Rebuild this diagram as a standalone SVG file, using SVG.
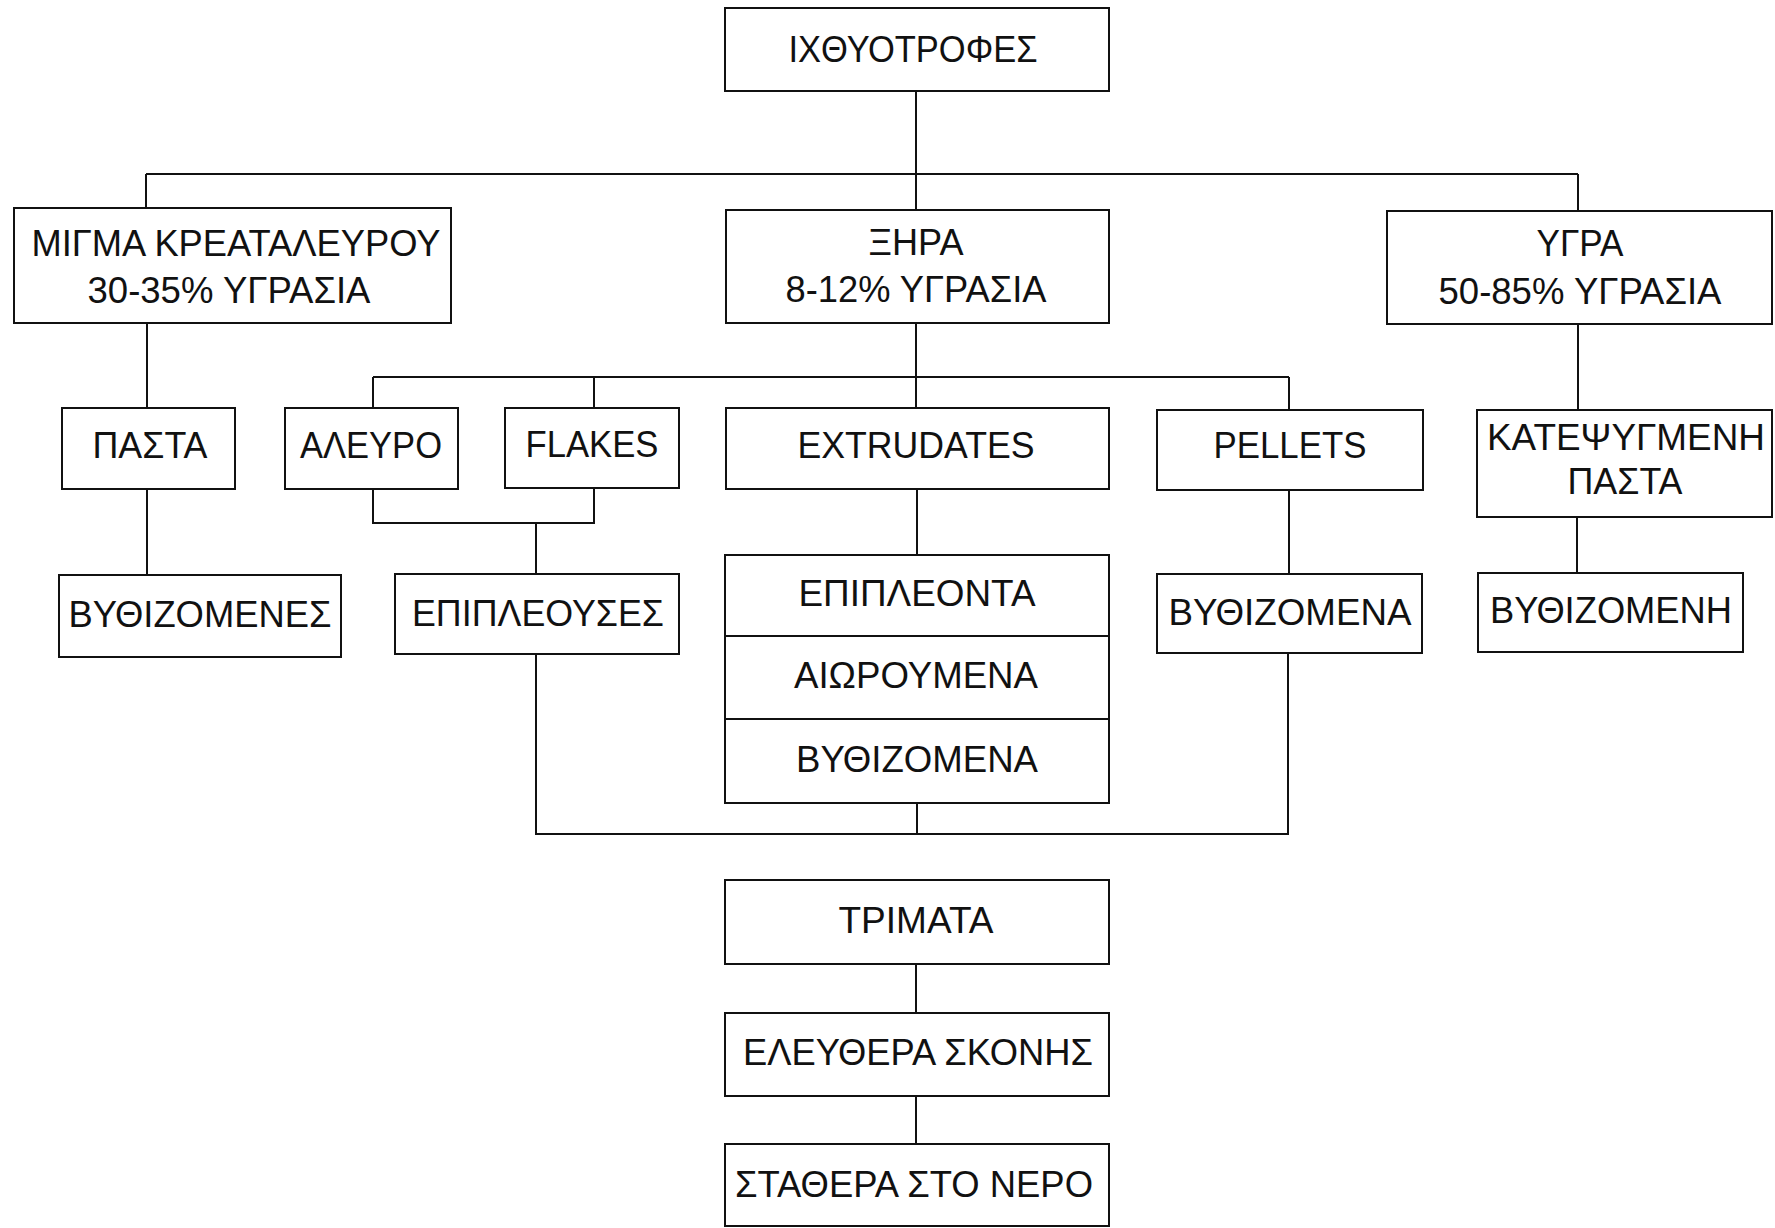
<svg xmlns="http://www.w3.org/2000/svg" width="1775" height="1228" viewBox="0 0 1775 1228">
<style>
.box{fill:#fff;stroke:#111;stroke-width:2}
.lbl{font-family:"Liberation Sans",Arial,sans-serif;font-size:36px;fill:#111;text-anchor:middle}
.con{fill:none;stroke:#111;stroke-width:2}
</style>
<rect width="1775" height="1228" fill="#fff"/>
<g id="connectors">
<path class="con" d="M916 91V210"/>
<path class="con" d="M146 174H1578"/>
<path class="con" d="M146 174V208"/>
<path class="con" d="M1578 174V211"/>
<path class="con" d="M147 323V408"/>
<path class="con" d="M147 489V575"/>
<path class="con" d="M916 323V408"/>
<path class="con" d="M373 377H1289"/>
<path class="con" d="M373 377V408"/>
<path class="con" d="M594 377V408"/>
<path class="con" d="M1289 377V410"/>
<path class="con" d="M373 489V523H594V488"/>
<path class="con" d="M536 523V574"/>
<path class="con" d="M536 654V834H1288V653"/>
<path class="con" d="M917 803V834"/>
<path class="con" d="M917 489V555"/>
<path class="con" d="M1289 490V574"/>
<path class="con" d="M1578 324V410"/>
<path class="con" d="M1577 517V573"/>
<path class="con" d="M916 964V1013"/>
<path class="con" d="M916 1096V1144"/>
</g>
<g id="n_ichthyotrofes"><rect class="box" x="725" y="8" width="384" height="83"/><text class="lbl" x="913" y="62" textLength="249" lengthAdjust="spacingAndGlyphs">ΙΧΘΥΟΤΡΟΦΕΣ</text></g>
<g id="n_migma"><rect class="box" x="14" y="208" width="437" height="115"/><text class="lbl" x="236" y="256" textLength="409" lengthAdjust="spacingAndGlyphs">ΜΙΓΜΑ ΚΡΕΑΤΑΛΕΥΡΟΥ</text><text class="lbl" x="229" y="303" textLength="283" lengthAdjust="spacingAndGlyphs">30-35% ΥΓΡΑΣΙΑ</text></g>
<g id="n_xhra"><rect class="box" x="726" y="210" width="383" height="113"/><text class="lbl" x="916" y="255" textLength="95" lengthAdjust="spacingAndGlyphs">ΞΗΡΑ</text><text class="lbl" x="916" y="302" textLength="261" lengthAdjust="spacingAndGlyphs">8-12% ΥΓΡΑΣΙΑ</text></g>
<g id="n_ygra"><rect class="box" x="1387" y="211" width="385" height="113"/><text class="lbl" x="1580" y="256" textLength="87" lengthAdjust="spacingAndGlyphs">ΥΓΡΑ</text><text class="lbl" x="1580" y="304" textLength="283" lengthAdjust="spacingAndGlyphs">50-85% ΥΓΡΑΣΙΑ</text></g>
<g id="n_pasta"><rect class="box" x="62" y="408" width="173" height="81"/><text class="lbl" x="150" y="458" textLength="115" lengthAdjust="spacingAndGlyphs">ΠΑΣΤΑ</text></g>
<g id="n_aleyro"><rect class="box" x="285" y="408" width="173" height="81"/><text class="lbl" x="371" y="458" textLength="142" lengthAdjust="spacingAndGlyphs">ΑΛΕΥΡΟ</text></g>
<g id="n_flakes"><rect class="box" x="505" y="408" width="174" height="80"/><text class="lbl" x="592" y="457" textLength="133" lengthAdjust="spacingAndGlyphs">FLAKES</text></g>
<g id="n_extrudates"><rect class="box" x="726" y="408" width="383" height="81"/><text class="lbl" x="916" y="458" textLength="237" lengthAdjust="spacingAndGlyphs">EXTRUDATES</text></g>
<g id="n_pellets"><rect class="box" x="1157" y="410" width="266" height="80"/><text class="lbl" x="1290" y="458" textLength="153" lengthAdjust="spacingAndGlyphs">PELLETS</text></g>
<g id="n_katepsygmeni"><rect class="box" x="1477" y="410" width="295" height="107"/><text class="lbl" x="1626" y="450" textLength="278" lengthAdjust="spacingAndGlyphs">ΚΑΤΕΨΥΓΜΕΝΗ</text><text class="lbl" x="1625" y="494" textLength="115" lengthAdjust="spacingAndGlyphs">ΠΑΣΤΑ</text></g>
<g id="n_vythizomenes"><rect class="box" x="59" y="575" width="282" height="82"/><text class="lbl" x="200" y="627" textLength="263" lengthAdjust="spacingAndGlyphs">ΒΥΘΙΖΟΜΕΝΕΣ</text></g>
<g id="n_epipleouses"><rect class="box" x="395" y="574" width="284" height="80"/><text class="lbl" x="538" y="626" textLength="252" lengthAdjust="spacingAndGlyphs">ΕΠΙΠΛΕΟΥΣΕΣ</text></g>
<g id="n_epipleonta"><rect class="box" x="725" y="555" width="384" height="81"/><text class="lbl" x="917" y="606" textLength="237" lengthAdjust="spacingAndGlyphs">ΕΠΙΠΛΕΟΝΤΑ</text></g>
<g id="n_aiwroumena"><rect class="box" x="725" y="636" width="384" height="83"/><text class="lbl" x="916" y="688" textLength="244" lengthAdjust="spacingAndGlyphs">ΑΙΩΡΟΥΜΕΝΑ</text></g>
<g id="n_vythizomena_ext"><rect class="box" x="725" y="719" width="384" height="84"/><text class="lbl" x="917" y="772" textLength="242" lengthAdjust="spacingAndGlyphs">ΒΥΘΙΖΟΜΕΝΑ</text></g>
<g id="n_vythizomena_pel"><rect class="box" x="1157" y="574" width="265" height="79"/><text class="lbl" x="1290" y="625" textLength="243" lengthAdjust="spacingAndGlyphs">ΒΥΘΙΖΟΜΕΝΑ</text></g>
<g id="n_vythizomeni"><rect class="box" x="1478" y="573" width="265" height="79"/><text class="lbl" x="1611" y="623" textLength="242" lengthAdjust="spacingAndGlyphs">ΒΥΘΙΖΟΜΕΝΗ</text></g>
<g id="n_trimata"><rect class="box" x="725" y="880" width="384" height="84"/><text class="lbl" x="916" y="933" textLength="155" lengthAdjust="spacingAndGlyphs">ΤΡΙΜΑΤΑ</text></g>
<g id="n_eleythera"><rect class="box" x="725" y="1013" width="384" height="83"/><text class="lbl" x="918" y="1065" textLength="350" lengthAdjust="spacingAndGlyphs">ΕΛΕΥΘΕΡΑ ΣΚΟΝΗΣ</text></g>
<g id="n_stathera"><rect class="box" x="725" y="1144" width="384" height="82"/><text class="lbl" x="914" y="1197" textLength="358" lengthAdjust="spacingAndGlyphs">ΣΤΑΘΕΡΑ ΣΤΟ ΝΕΡΟ</text></g>
</svg>
